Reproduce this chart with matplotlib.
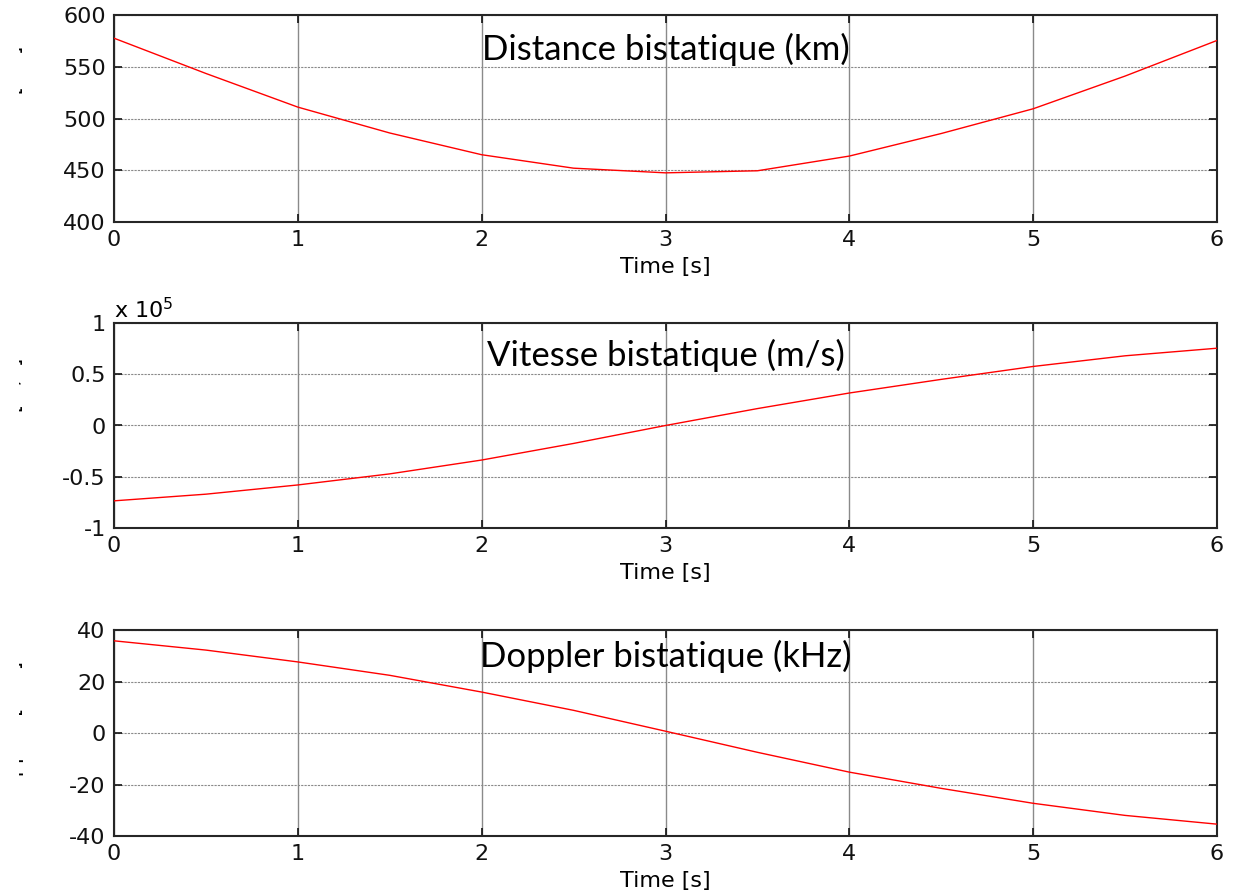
import matplotlib.pyplot as plt
from matplotlib.ticker import FuncFormatter
from matplotlib.transforms import Bbox, TransformedBbox

# Time axis (s)
t = [0, 0.5, 1, 1.5, 2, 2.5, 3, 3.5, 4, 4.5, 5, 5.5, 6]

# Bistatic distance (km)
distance_km = [577.6, 543.5, 511, 486, 465, 452, 447.5, 449.5, 463.7, 485.5, 509.4, 541, 575.4]

# Bistatic velocity (m/s)
vitesse_ms = [-73500, -67000, -58000, -47200, -33700, -17500, 0,
              16500, 31700, 45000, 57600, 68000, 75400]

# Bistatic Doppler (kHz)
doppler_khz = [35.8, 32.2, 27.6, 22.4, 15.9, 8.8, 0.7, -7.5, -15.2, -21.5, -27.3, -32.0, -35.4]

titles = ["Distance bistatique (km)", "Vitesse bistatique (m/s)", "Doppler bistatique (kHz)"]
ylabels = ["Distance [km]", "Vitesse [m/s]", "Doppler [kHz]"]
xticks = [0, 1, 2, 3, 4, 5, 6]
yticks_dist = [400, 450, 500, 550, 600]
yticks_vit = [-100000, -50000, 0, 50000, 100000]
yticks_dop = [-40, -20, 0, 20, 40]

W, H = 1253, 896
fig = plt.figure(figsize=(W / 100, H / 100), dpi=100)
plt.rcParams["font.family"] = "DejaVu Sans"

# axes boxes in pixels: left, top, right, bottom
boxes = [(114, 15, 1217, 222), (114, 323, 1217, 528), (114, 630, 1217, 836)]
series = [distance_km, vitesse_ms, doppler_khz]
yticks_all = [yticks_dist, yticks_vit, yticks_dop]
title_y = [0.785, 0.79, 0.82]

axes = []
for i, (l, tp, r, b) in enumerate(boxes):
    ax = fig.add_axes([l / W, 1 - b / H, (r - l) / W, (b - tp) / H])
    ax.plot(t, series[i], color="red", lw=1, zorder=3)
    ax.set_xlim(0, 6)
    ax.set_ylim(yticks_all[i][0], yticks_all[i][-1])
    ax.set_xticks(xticks)
    ax.set_yticks(yticks_all[i])
    ax.grid(axis="x", color="#8a8a8a", lw=1.0, ls="-")
    ax.grid(axis="y", color="#8a8a8a", lw=0.8, ls=(0, (2, 1)))
    ax.tick_params(direction="in", top=True, right=True, length=6, width=1.2,
                   labelsize=16, pad=6, colors="#111111")
    for sp in ax.spines.values():
        sp.set_linewidth(1.5)
        sp.set_color("#262626")
    ax.set_xlabel("Time [s]", fontsize=16, labelpad=5)
    ax.text(0.5, title_y[i], titles[i], transform=ax.transAxes, ha="center",
            va="baseline", fontfamily="Lato", fontsize=25, zorder=4)

    # y label, mostly cut off at the left border
    yl = fig.text(14 / W, 1 - (tp + b) / 2 / H, ylabels[i], rotation=90,
                  ha="center", va="center", fontsize=15)
    yl.set_clip_box(TransformedBbox(Bbox.from_extents(19 / W, 0, 1, 1), fig.transFigure))
    yl.set_clip_on(True)
    axes.append(ax)

fmt = FuncFormatter(lambda v, pos: "%g" % v)
axes[0].yaxis.set_major_formatter(fmt)
axes[2].yaxis.set_major_formatter(fmt)
axes[1].yaxis.set_major_formatter(FuncFormatter(lambda v, pos: "%g" % (v / 1e5)))
for ax in axes:
    ax.xaxis.set_major_formatter(fmt)
axes[1].text(0.0, 1.025, r"x 10$^5$", transform=axes[1].transAxes, ha="left",
             va="baseline", fontsize=16)

fig.savefig("out.png", dpi=100)
